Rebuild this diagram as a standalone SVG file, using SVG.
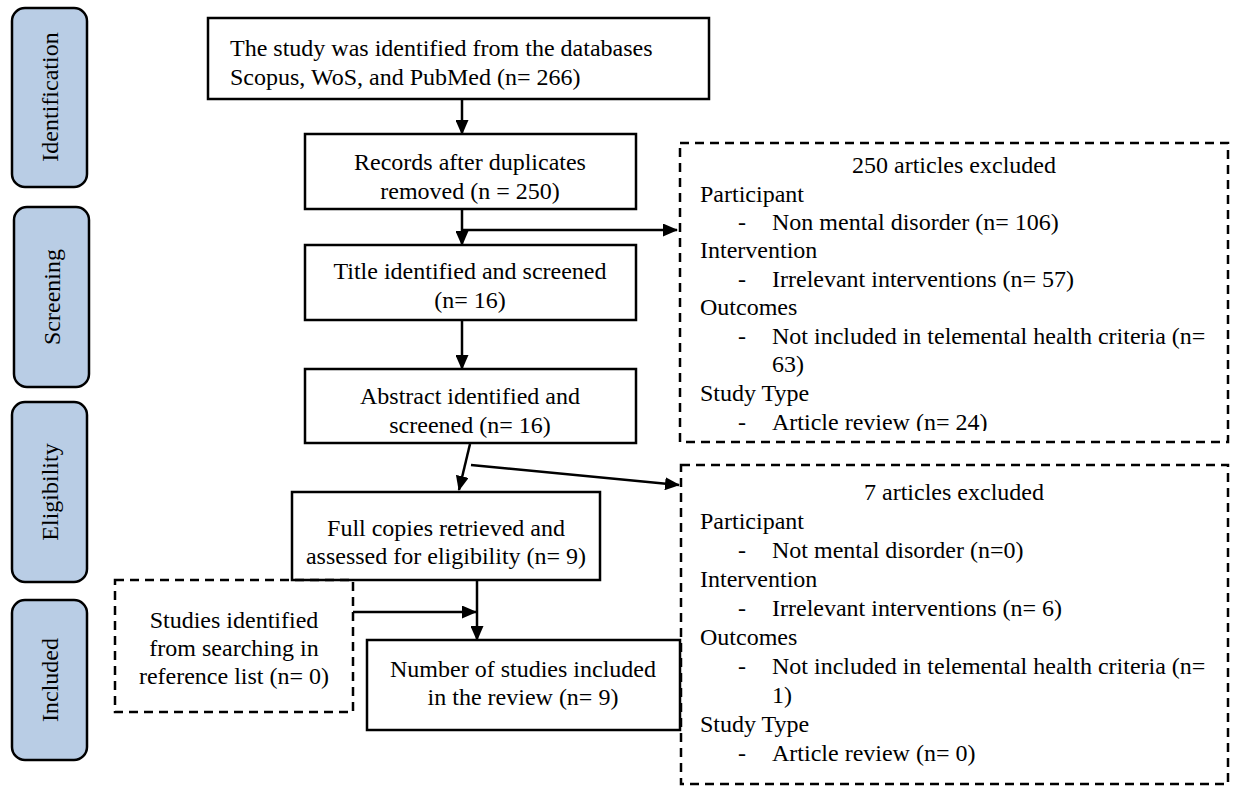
<svg xmlns="http://www.w3.org/2000/svg" width="1233" height="786" viewBox="0 0 1233 786">
<style>
text{font-family:"Liberation Serif","Times New Roman",serif;font-size:24px;fill:#000}
.phase{fill:#b9cde5;stroke:#000;stroke-width:2.5}
.box{fill:#fff;stroke:#000;stroke-width:2.5}
.dbox{fill:none;stroke:#000;stroke-width:2.5;stroke-dasharray:9,6}
.c{text-anchor:middle}
.ln{stroke:#000;stroke-width:2.5;fill:none}
</style>
<defs>
<marker id="ah" markerWidth="15" markerHeight="13" refX="14" refY="6.5" orient="auto" markerUnits="userSpaceOnUse">
<path d="M0,0 L15,6.5 L0,13 Z" fill="#000"/>
</marker>
<clipPath id="clipTop"><rect x="680" y="143" width="548" height="288"/></clipPath>
</defs>
<rect width="1233" height="786" fill="#fff"/>

<g id="phase-identification">
<rect class="phase" x="12" y="8" width="75" height="179" rx="13"/>
<text class="c" transform="translate(58,97) rotate(-90)">Identification</text>
</g>
<g id="phase-screening">
<rect class="phase" x="14" y="207" width="75" height="180" rx="13"/>
<text class="c" transform="translate(60,297) rotate(-90)">Screening</text>
</g>
<g id="phase-eligibility">
<rect class="phase" x="12" y="402" width="75" height="180" rx="13"/>
<text class="c" transform="translate(58,492) rotate(-90)">Eligibility</text>
</g>
<g id="phase-included">
<rect class="phase" x="12" y="600" width="75" height="160" rx="13"/>
<text class="c" transform="translate(58,680) rotate(-90)">Included</text>
</g>

<g id="node-identified">
<rect class="box" x="208" y="18" width="501" height="81"/>
<text x="230" y="56">The study was identified from the databases</text>
<text x="230" y="85">Scopus, WoS, and PubMed (n= 266)</text>
</g>
<g id="node-records">
<rect class="box" x="305" y="134" width="331" height="75"/>
<text class="c" x="470" y="170">Records after duplicates</text>
<text class="c" x="470" y="199">removed (n = 250)</text>
</g>
<g id="node-title">
<rect class="box" x="305" y="245" width="331" height="75"/>
<text class="c" x="470" y="279">Title identified and screened</text>
<text class="c" x="470" y="308">(n= 16)</text>
</g>
<g id="node-abstract">
<rect class="box" x="305" y="369" width="331" height="74"/>
<text class="c" x="470" y="404">Abstract identified and</text>
<text class="c" x="470" y="433">screened (n= 16)</text>
</g>
<g id="node-fullcopies">
<rect class="box" x="292" y="492" width="308" height="88"/>
<text class="c" x="446" y="536">Full copies retrieved and</text>
<text class="c" x="446" y="564">assessed for eligibility (n= 9)</text>
</g>
<g id="node-reference">
<rect class="dbox" x="115" y="580" width="238" height="132"/>
<text class="c" x="234" y="628">Studies identified</text>
<text class="c" x="234" y="656">from searching in</text>
<text class="c" x="234" y="684">reference list (n= 0)</text>
</g>
<g id="node-included">
<rect class="box" x="367" y="640" width="313" height="90"/>
<text class="c" x="523" y="677">Number of studies included</text>
<text class="c" x="523" y="705">in the review (n= 9)</text>
</g>

<g id="node-excluded-250">
<rect class="dbox" x="680" y="143" width="548" height="299"/>
<g clip-path="url(#clipTop)">
<text class="c" x="954" y="173">250 articles excluded</text>
<text x="700" y="202">Participant</text>
<text x="738" y="230">-</text><text x="772" y="230">Non mental disorder  (n= 106)</text>
<text x="700" y="258">Intervention</text>
<text x="738" y="287">-</text><text x="772" y="287">Irrelevant interventions (n= 57)</text>
<text x="700" y="315">Outcomes</text>
<text x="738" y="344">-</text><text x="772" y="344">Not included in telemental health criteria (n=</text>
<text x="772" y="372">63)</text>
<text x="700" y="401">Study Type</text>
<text x="738" y="430">-</text><text x="772" y="430">Article review (n= 24)</text>
</g>
</g>

<g id="node-excluded-7">
<rect class="dbox" x="681" y="465" width="547" height="319"/>
<text class="c" x="954" y="500">7 articles excluded</text>
<text x="700" y="529">Participant</text>
<text x="738" y="558">-</text><text x="772" y="558">Not mental disorder (n=0)</text>
<text x="700" y="587">Intervention</text>
<text x="738" y="616">-</text><text x="772" y="616">Irrelevant interventions (n= 6)</text>
<text x="700" y="645">Outcomes</text>
<text x="738" y="674">-</text><text x="772" y="674">Not included in telemental health criteria (n=</text>
<text x="772" y="703">1)</text>
<text x="700" y="732">Study Type</text>
<text x="738" y="761">-</text><text x="772" y="761">Article review (n= 0)</text>
</g>

<g id="connectors">
<line class="ln" x1="462" y1="99" x2="462" y2="134" marker-end="url(#ah)"/>
<line class="ln" x1="462" y1="209" x2="462" y2="245" marker-end="url(#ah)"/>
<line class="ln" x1="462" y1="230" x2="677" y2="230" marker-end="url(#ah)"/>
<line class="ln" x1="462" y1="320" x2="462" y2="369" marker-end="url(#ah)"/>
<line class="ln" x1="470" y1="444" x2="459" y2="490" marker-end="url(#ah)"/>
<line class="ln" x1="471" y1="465" x2="679" y2="485" marker-end="url(#ah)"/>
<line class="ln" x1="353" y1="612" x2="476" y2="612" marker-end="url(#ah)"/>
<line class="ln" x1="477" y1="580" x2="477" y2="640" marker-end="url(#ah)"/>
</g>
</svg>
